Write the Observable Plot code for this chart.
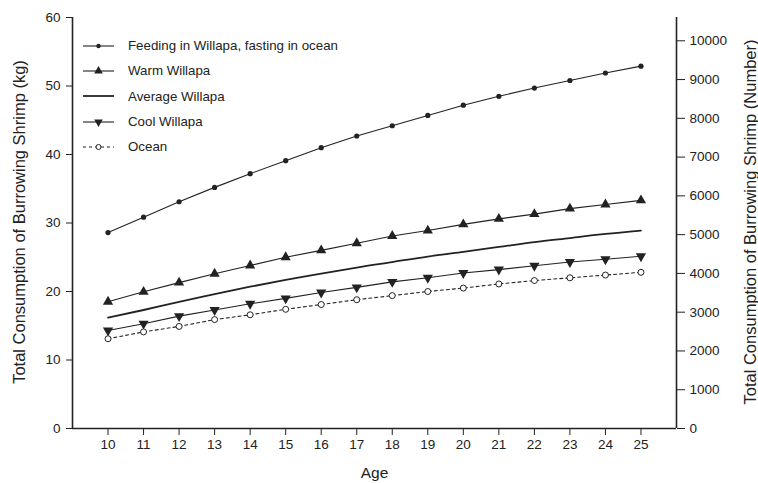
<!DOCTYPE html>
<html><head><meta charset="utf-8">
<script src="https://cdn.jsdelivr.net/npm/d3@7"></script>
<script src="https://cdn.jsdelivr.net/npm/@observablehq/plot@0.6"></script>
<style>
body{margin:0;background:#fff;}
#wrap{position:relative;width:758px;height:483px;font-family:"Liberation Sans",Arial,sans-serif;color:#222;overflow:hidden;}
#legend{position:absolute;left:83px;top:33px;font-size:13.3px;}
.item{display:flex;align-items:center;height:25.3px;}
.item svg{margin-right:14px;}
.ylab{position:absolute;top:222px;font-size:16.5px;white-space:nowrap;transform:translate(-50%,-50%) rotate(-90deg);line-height:1;}
</style></head>
<body><div id="wrap"><div id="chart"></div><div id="legend"></div>
<div class="ylab" id="ylabL" style="left:19px"></div>
<div class="ylab" id="ylabR" style="left:750px"></div></div>
<script>
const ages = [10,11,12,13,14,15,16,17,18,19,20,21,22,23,24,25];
const feeding = [28.6,30.85,33.1,35.2,37.2,39.1,41.0,42.7,44.2,45.7,47.2,48.5,49.7,50.8,51.9,52.9];
const warm = [18.5,19.95,21.3,22.6,23.8,25.0,26.0,27.05,28.1,28.9,29.8,30.6,31.3,32.1,32.7,33.3];
const average = [16.2,17.3,18.5,19.6,20.7,21.7,22.6,23.5,24.3,25.1,25.8,26.5,27.2,27.8,28.4,28.9];
const cool = [14.3,15.3,16.4,17.3,18.2,19.0,19.85,20.6,21.4,22.0,22.7,23.2,23.75,24.3,24.7,25.15];
const ocean = [13.1,14.1,14.9,15.9,16.6,17.4,18.1,18.8,19.4,20.0,20.5,21.1,21.6,22.0,22.4,22.8];
const kgTicks = [0,10,20,30,40,50,60];
const numberTicks = [0,1000,2000,3000,4000,5000,6000,7000,8000,9000,10000];
const kgPerNumber = 56.6/10000;
const seriesNames = ["Feeding in Willapa, fasting in ocean","Warm Willapa","Average Willapa","Cool Willapa","Ocean"];
const xLabel = "Age";
const yLeftLabel = "Total Consumption of Burrowing Shrimp (kg)";
const yRightLabel = "Total Consumption of Burrowing Shrimp (Number)";

const mk = arr => ages.map((a,i)=>({age:a, v:arr[i]}));
const F = mk(feeding), W = mk(warm), A = mk(average), C = mk(cool), O = mk(ocean);
const ink = "#222";

const chart = Plot.plot({
  width: 758, height: 483,
  marginLeft: 72, marginRight: 82, marginTop: 17, marginBottom: 55,
  style: {fontFamily: '"Liberation Sans", Arial, sans-serif', fontSize: "13.5px", color: ink, background: "#fff"},
  x: {domain: [9, 26]},
  y: {domain: [0, 60]},
  marks: [
    Plot.axisX(ages, {tickSize: 7, tickPadding: 4, fontSize: 13.5, label: null, stroke: ink}),
    Plot.axisY(kgTicks, {anchor: "left", tickSize: 6, tickPadding: 6, fontSize: 13.5, label: null, stroke: ink}),
    Plot.axisY(numberTicks.map(n => n*kgPerNumber), {anchor: "right", tickSize: 8, tickPadding: 5, fontSize: 13.5, tickFormat: d => String(Math.round(d/kgPerNumber)), label: null, stroke: ink}),
    Plot.text([xLabel], {frameAnchor: "bottom", dy: 45, lineAnchor: "middle", fontSize: 15.5, fill: ink}),
    Plot.ruleX([9, 26], {y1: 0, y2: 60, stroke: ink, strokeWidth: 1.6}),
    Plot.ruleY([0], {x1: 9, x2: 26, stroke: ink, strokeWidth: 1.6}),
    Plot.line(F, {x: "age", y: "v", stroke: ink, strokeWidth: 1.1}),
    Plot.dot(F, {x: "age", y: "v", r: 2.6, fill: ink, stroke: "none"}),
    Plot.line(W, {x: "age", y: "v", stroke: ink, strokeWidth: 1.1}),
    Plot.dot(W, {x: "age", y: "v", symbol: "triangle", r: 3.8, fill: ink, stroke: "none"}),
    Plot.line(A, {x: "age", y: "v", stroke: ink, strokeWidth: 1.8, curve: "monotone-x"}),
    Plot.line(C, {x: "age", y: "v", stroke: ink, strokeWidth: 1.1}),
    Plot.dot(C, {x: "age", y: "v", symbol: "triangle", rotate: 180, r: 3.8, fill: ink, stroke: "none"}),
    Plot.line(O, {x: "age", y: "v", stroke: ink, strokeWidth: 1.1, strokeDasharray: "3,3"}),
    Plot.dot(O, {x: "age", y: "v", r: 3, fill: "#fff", stroke: ink, strokeWidth: 1})
  ]
});
document.getElementById("chart").appendChild(chart);
document.getElementById("ylabL").textContent = yLeftLabel;
document.getElementById("ylabR").textContent = yRightLabel;

// legend
const legend = d3.select("#legend");
const kinds = ["dot","tri","none","inv","open"];
seriesNames.forEach((name, i) => {
  const row = legend.append("div").attr("class","item");
  const s = row.append("svg").attr("width", 31).attr("height", 12);
  const k = kinds[i];
  s.append("line").attr("x1",0).attr("x2",31).attr("y1",6).attr("y2",6)
    .attr("stroke", ink).attr("stroke-width", k==="none"?1.8:1.1)
    .attr("stroke-dasharray", k==="open"?"3,3":null);
  const sym = k==="dot" ? d3.symbol(d3.symbolCircle, Math.PI*2.2*2.2)
    : (k==="tri"||k==="inv") ? d3.symbol(d3.symbolTriangle, Math.PI*3.2*3.2)
    : k==="open" ? d3.symbol(d3.symbolCircle, Math.PI*2.5*2.5) : null;
  if (sym) {
    s.append("path").attr("d", sym()).attr("transform", `translate(15.5,6)${k==="inv"?" rotate(180)":""}`)
      .attr("fill", k==="open" ? "#fff" : ink).attr("stroke", k==="open" ? ink : "none");
  }
  row.append("span").text(name);
});
</script></body></html>
